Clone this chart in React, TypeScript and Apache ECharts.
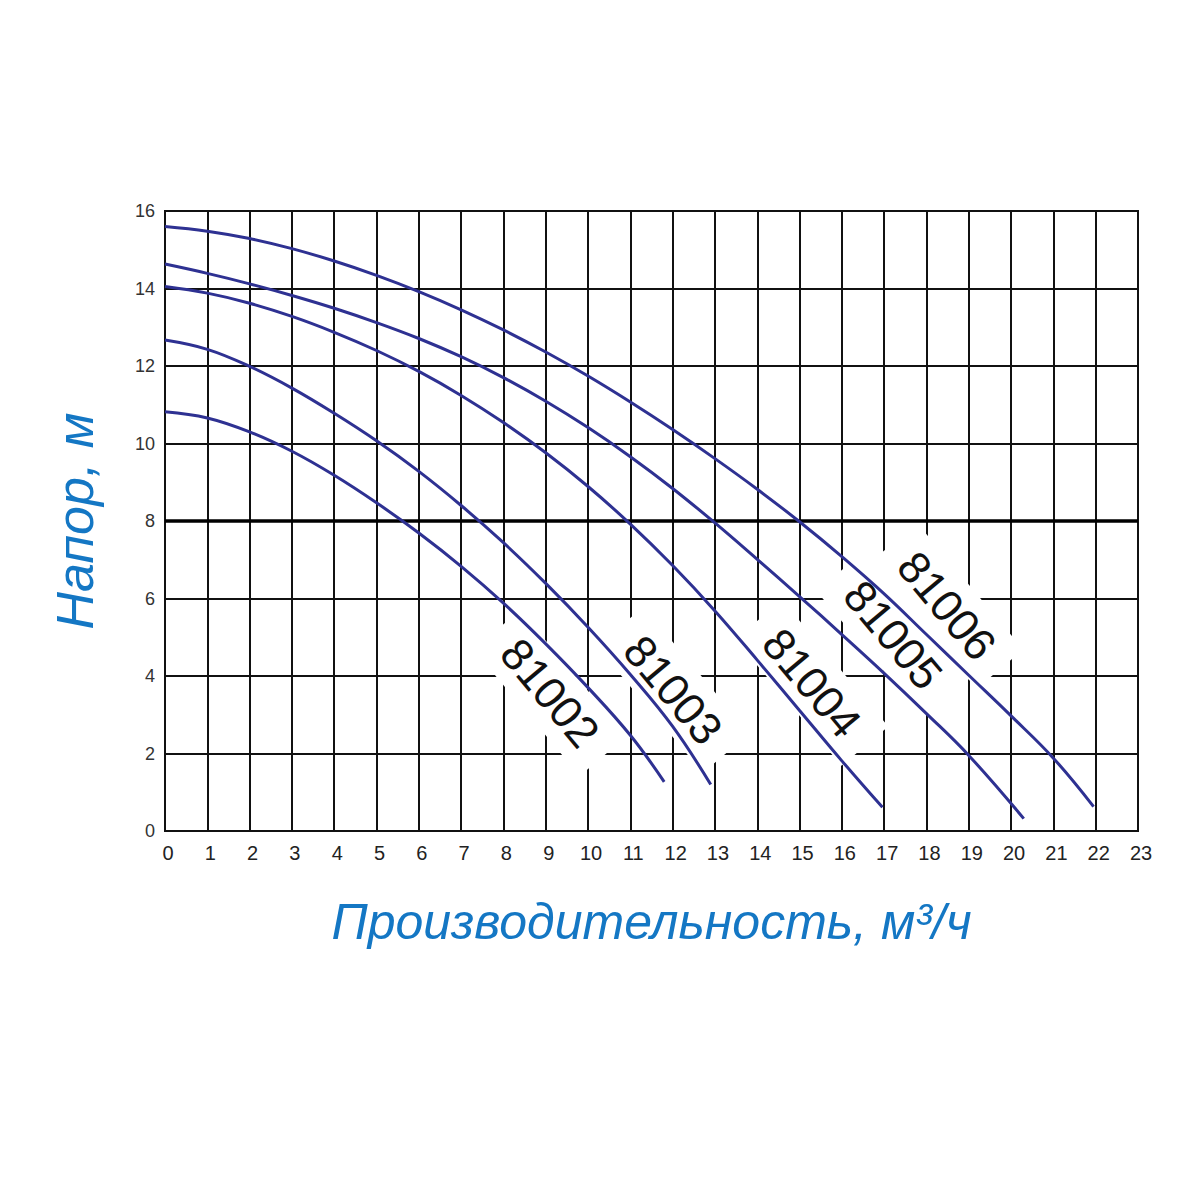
import React, { useEffect, useRef } from 'react';
import * as echarts from 'echarts';

// Q, m3/h  and  H, m
const models = ['81002', '81003', '81004', '81005', '81006'];

const flow81002 = [0, 1, 2, 3, 4, 5, 6, 7, 8, 9, 10, 11, 11.8];
const head81002 = [10.82, 10.66, 10.3, 9.8, 9.18, 8.47, 7.69, 6.83, 5.88, 4.83, 3.7, 2.47, 1.27];

const flow81003 = [0, 1, 2, 3, 4, 5, 6, 7, 8, 9, 10, 11, 12, 12.9];
const head81003 = [12.67, 12.43, 11.99, 11.43, 10.78, 10.07, 9.28, 8.4, 7.44, 6.39, 5.26, 4.04, 2.7, 1.2];

const flow81004 = [0, 1, 2, 3, 4, 5, 6, 7, 8, 9, 10, 11, 12, 13, 14, 15, 16, 16.96];
const head81004 = [14.05, 13.88, 13.62, 13.28, 12.87, 12.4, 11.86, 11.24, 10.54, 9.76, 8.89, 7.92, 6.85, 5.68, 4.41, 3.11, 1.81, 0.61];

const flow81005 = [0, 1, 2, 3, 4, 5, 6, 7, 8, 9, 10, 11, 12, 13, 14, 15, 16, 17, 18, 19, 20.3];
const head81005 = [14.63, 14.39, 14.12, 13.82, 13.49, 13.12, 12.71, 12.24, 11.7, 11.09, 10.41, 9.66, 8.84, 7.95, 7.01, 6.05, 5.07, 4.07, 3.03, 1.95, 0.32];

const flow81006 = [0, 1, 2, 3, 4, 5, 6, 7, 8, 9, 10, 11, 12, 13, 14, 15, 16, 17, 18, 19, 20, 21, 21.95];
const head81006 = [15.6, 15.48, 15.29, 15.03, 14.71, 14.34, 13.92, 13.45, 12.93, 12.36, 11.74, 11.07, 10.36, 9.61, 8.82, 7.98, 7.08, 6.12, 5.07, 4.02, 2.97, 1.88, 0.63];

const flows = [flow81002, flow81003, flow81004, flow81005, flow81006];
const heads = [head81002, head81003, head81004, head81005, head81006];

// where each model number sits (Q, H)
const labelFlow = [9.1, 12.01, 15.29, 17.21, 18.48];
const labelHead = [3.56, 3.64, 3.82, 5.06, 5.81];

const xName = 'Производительность, м³/ч';
const yName = 'Напор, м';

const curveColor = '#2e3192';
const titleColor = '#1477c4';
const font = 'Liberation Sans, Arial, sans-serif';

const App: React.FC = () => {
  const chartRef = useRef<HTMLDivElement>(null);

  useEffect(() => {
    document.body.style.margin = '0';
    const chart = echarts.init(chartRef.current!, null, { renderer: 'svg' });

    const series: any[] = models.map((name, i) => ({
      name,
      type: 'line',
      data: flows[i].map((q, j) => [q, heads[i][j]]),
      smooth: 0.4,
      showSymbol: false,
      symbol: 'none',
      lineStyle: { color: curveColor, width: 3 },
      z: 3,
      markPoint: {
        z: 2,
        symbol: 'circle',
        symbolSize: 1,
        itemStyle: { color: 'rgba(0,0,0,0)' },
        silent: true,
        data: [{ coord: [labelFlow[i], labelHead[i]], value: name }],
        label: {
          show: true,
          position: 'inside',
          formatter: name,
          rotate: -50,
          fontSize: 45,
          fontFamily: font,
          color: '#111',
          backgroundColor: '#fff',
          padding: [8, 20],
        },
      },
    }));

    series[0].markLine = {
      z: 2,
      silent: true,
      symbol: ['none', 'none'],
      label: { show: false },
      lineStyle: { color: '#000', width: 3.5, type: 'solid' },
      data: [{ yAxis: 8 }],
    };

    const options = {
      animation: false,
      grid: {
        left: 165,
        right: 62,
        top: 211,
        bottom: 369,
        containLabel: false,
        show: true,
        borderColor: '#111',
        borderWidth: 2,
      },
      xAxis: {
        type: 'value',
        min: 0,
        max: 23,
        interval: 1,
        name: xName,
        nameLocation: 'middle',
        nameGap: 66,
        nameTextStyle: {
          color: titleColor,
          fontSize: 50,
          fontStyle: 'italic',
          fontFamily: font,
        },
        axisLine: { show: true, lineStyle: { color: '#111', width: 2 } },
        axisTick: { show: false },
        axisLabel: {
          color: '#222',
          fontSize: 20,
          margin: 12,
          padding: [0, 0, 0, 6],
          fontFamily: font,
        },
        splitLine: { show: true, lineStyle: { color: '#111', width: 2 } },
      },
      yAxis: {
        type: 'value',
        min: 0,
        max: 16,
        interval: 2,
        name: yName,
        nameLocation: 'middle',
        nameRotate: 90,
        nameGap: 64,
        nameTextStyle: {
          color: titleColor,
          fontSize: 52,
          fontStyle: 'italic',
          fontFamily: font,
        },
        axisLine: { show: true, lineStyle: { color: '#111', width: 2 } },
        axisTick: { show: false },
        axisLabel: {
          color: '#333',
          fontSize: 18,
          margin: 10,
          fontFamily: font,
        },
        splitLine: { show: true, lineStyle: { color: '#111', width: 2 } },
      },
      series,
    };

    chart.setOption(options);

    return () => {
      chart.dispose();
    };
  }, []);

  return <div ref={chartRef} style={{ width: '1200px', height: '1200px', background: '#fff' }} />;
};

export default App;
